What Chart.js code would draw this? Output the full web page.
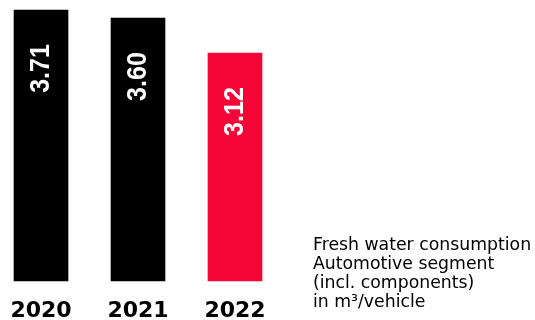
<!DOCTYPE html>
<html>
<head>
<meta charset="utf-8">
<script src="https://cdn.jsdelivr.net/npm/chart.js@4"></script>
<style>
  html, body { margin: 0; padding: 0; background: #fff; }
  #wrap { width: 535px; height: 320px; }
</style>
</head>
<body>
<div id="wrap"><canvas id="aguaChart"></canvas></div>
<script>
// dados
const anos = ['2020', '2021', '2022'];
const consumo = [3.71, 3.60, 3.12];
const cores = ['#000000', '#000000', '#f50537'];
const legenda = ['Fresh water consumption', 'Automotive segment', '(incl. components)', 'in m³/vehicle'];

// valores dentro das barras + texto explicativo à direita
const rotulos = {
  id: 'rotulos',
  afterDatasetsDraw(chart) {
    const ctx = chart.ctx;
    const meta = chart.getDatasetMeta(0);
    ctx.save();
    ctx.fillStyle = '#fff';
    ctx.font = 'bold 27px "Liberation Sans", sans-serif';
    ctx.textAlign = 'right';
    ctx.textBaseline = 'middle';
    meta.data.forEach((bar, i) => {
      ctx.save();
      ctx.translate(bar.x + 1, bar.y + 34);
      ctx.rotate(-Math.PI / 2);
      ctx.scale(0.93, 1); // fonte um pouco mais estreita
      ctx.fillText(consumo[i].toFixed(2), 0, 0);
      ctx.restore();
    });
    ctx.fillStyle = '#000';
    ctx.font = '17.3px "DejaVu Sans", sans-serif';
    ctx.textAlign = 'left';
    ctx.textBaseline = 'alphabetic';
    const x0 = chart.chartArea.right + 78;
    legenda.forEach((linha, i) => ctx.fillText(linha, x0, 249.5 + i * 19));
    ctx.restore();
  }
};

const ctx = document.getElementById('aguaChart').getContext('2d');
new Chart(ctx, {
  type: 'bar',
  data: {
    labels: anos,
    datasets: [{
      data: consumo,
      backgroundColor: cores,
      borderWidth: 0,
      barThickness: 54,
      clip: false
    }]
  },
  options: {
    responsive: true,
    maintainAspectRatio: false,
    animation: false,
    layout: { padding: { left: 41, right: 300, top: 10, bottom: 0 } },
    plugins: { legend: { display: false }, tooltip: { enabled: false } },
    scales: {
      x: {
        offset: false,
        grid: { display: false, drawTicks: false },
        border: { display: false },
        ticks: {
          color: '#000',
          padding: 19,
          maxRotation: 0,
          autoSkip: false,
          font: { family: 'DejaVu Sans', weight: 'bold', size: 22, lineHeight: 1 }
        },
        afterFit(scale) {
          // altura fixa do eixo e sem recuo lateral extra
          scale.height = 39;
          scale.paddingLeft = 0;
          scale.paddingRight = 0;
        }
      },
      y: { display: false, min: 0, max: Math.max(...consumo) }
    }
  },
  plugins: [rotulos]
});
</script>
</body>
</html>
